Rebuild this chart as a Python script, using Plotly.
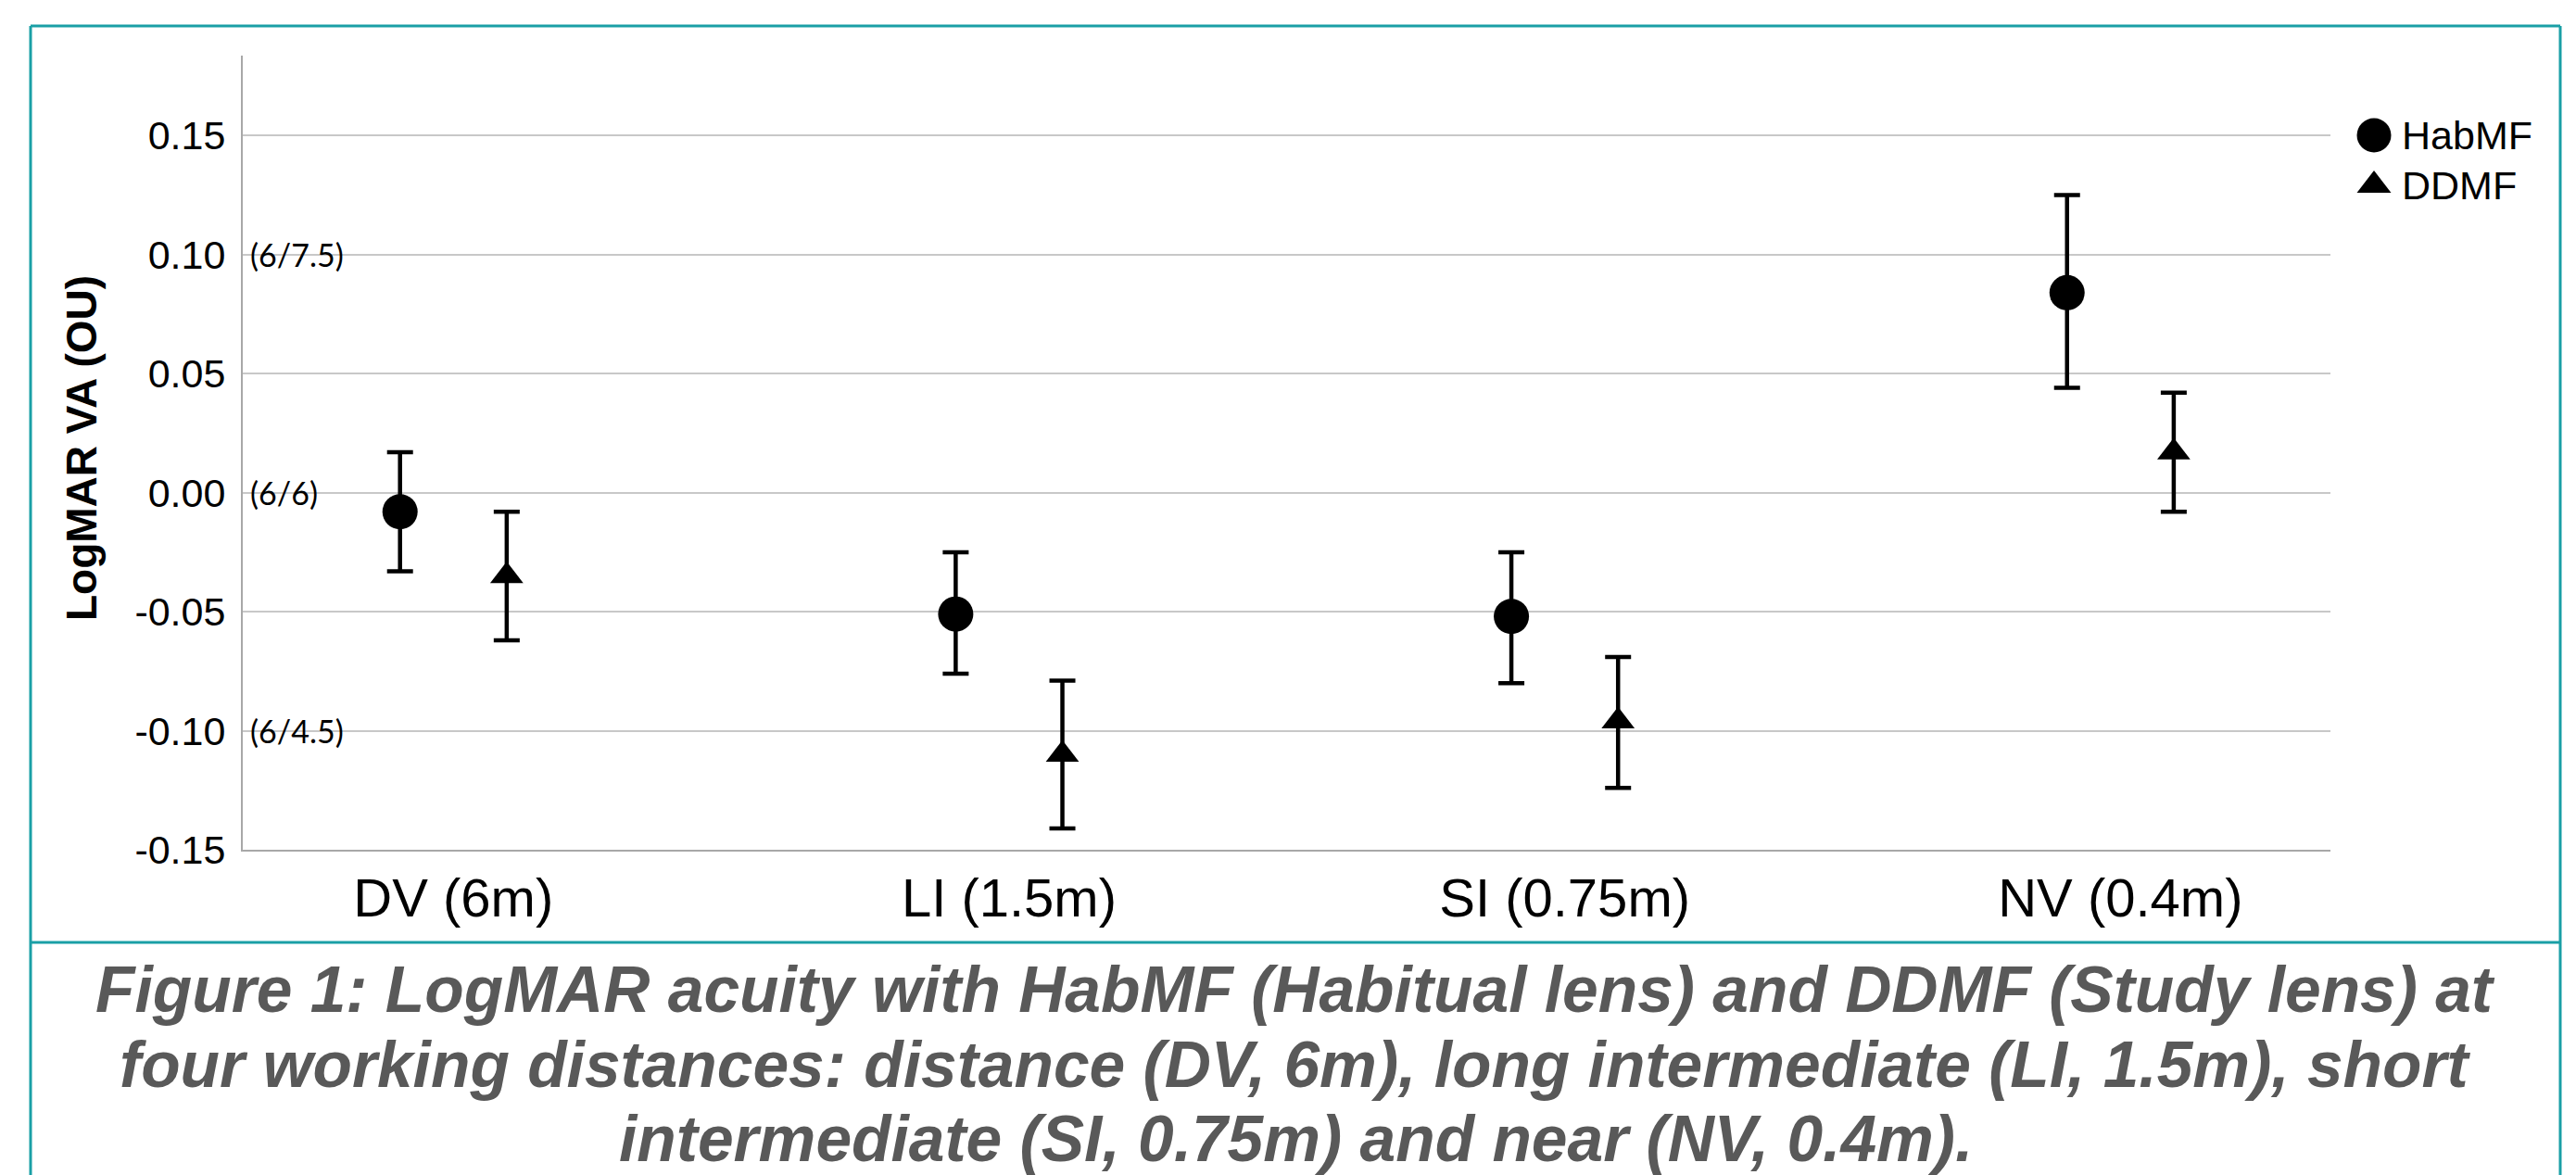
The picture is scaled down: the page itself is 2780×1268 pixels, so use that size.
import numpy as np
import plotly.graph_objects as go

# ---------------- data ----------------
categories = ["DV (6m)", "LI (1.5m)", "SI (0.75m)", "NV (0.4m)"]
series_names = ["HabMF", "DDMF"]

hab_mean = [-0.008, -0.051, -0.052, 0.084]
hab_upper = [0.017, -0.025, -0.025, 0.125]
hab_lower = [-0.033, -0.076, -0.080, 0.044]

dd_mean = [-0.035, -0.110, -0.096, 0.017]
dd_upper = [-0.008, -0.079, -0.069, 0.042]
dd_lower = [-0.062, -0.141, -0.124, -0.008]

y_tickvals = [-0.15, -0.10, -0.05, 0.00, 0.05, 0.10, 0.15]
y_ticktext = ["-0.15", "-0.10", "-0.05", "0.00", "0.05", "0.10", "0.15"]

snellen_vals = [0.10, 0.00, -0.10]
snellen_text = ["(6/7.5)", "(6/6)", "(6/4.5)"]

caption_lines = [
    "Figure 1: LogMAR acuity with HabMF (Habitual lens) and DDMF (Study lens) at",
    "four working distances: distance (DV, 6m), long intermediate (LI, 1.5m), short",
    "intermediate (SI, 0.75m) and near (NV, 0.4m).",
]

# ---------------- layout helpers ----------------
W, H = 2780, 1268


def px(x):
    return x / W


def py(y):
    return 1 - y / H


FONT = "Liberation Sans, Arial, sans-serif"
TEAL = "#1a9fa6"
offset = 0.096
idx = np.arange(len(categories))


def err(mean, upper, lower):
    m = np.array(mean)
    return dict(type="data", symmetric=False,
                array=(np.array(upper) - m).tolist(),
                arrayminus=(m - np.array(lower)).tolist(),
                color="black", thickness=4.5, width=14)


fig = go.Figure()
fig.add_trace(go.Scatter(
    x=(idx - offset).tolist(), y=hab_mean, mode="markers", name=series_names[0],
    marker=dict(symbol="circle", size=38, color="black", opacity=1, line=dict(width=0)),
    error_y=err(hab_mean, hab_upper, hab_lower), showlegend=False, cliponaxis=False))
fig.add_trace(go.Scatter(
    x=(idx + offset).tolist(), y=dd_mean, mode="markers", name=series_names[1],
    marker=dict(symbol="triangle-up", size=31, color="black", opacity=1, line=dict(width=0)),
    error_y=err(dd_mean, dd_upper, dd_lower), showlegend=False, cliponaxis=False))

# custom legend symbols on a small hidden axis
fig.add_trace(go.Scatter(
    x=[0, 0], y=[1, 0], mode="markers", xaxis="x2", yaxis="y2",
    marker=dict(symbol=["circle", "triangle-up"], size=[37, 32], color="black",
                opacity=1, line=dict(width=0)),
    showlegend=False, cliponaxis=False, hoverinfo="skip"))

annotations = []
for v, t in zip(snellen_vals, snellen_text):
    annotations.append(dict(x=px(268), xref="paper", y=v, yref="y", text=t,
                            showarrow=False, xanchor="left", yanchor="middle",
                            font=dict(family="Lato, Noto Sans, sans-serif", size=34, color="black")))

for name, yy in zip(series_names, [146, 200]):
    annotations.append(dict(x=px(2590), xref="paper", y=py(yy), yref="paper", text=name,
                            showarrow=False, xanchor="left", yanchor="middle",
                            font=dict(family=FONT, size=43, color="black")))

annotations.append(dict(x=px(88), xref="paper", y=py(484), yref="paper",
                        text="<b>LogMAR VA (OU)</b>", textangle=-90, showarrow=False,
                        xanchor="center", yanchor="middle",
                        font=dict(family=FONT, size=46, color="black")))

for line, yy in zip(caption_lines, [1068, 1149, 1229]):
    annotations.append(dict(x=px(1398), xref="paper", y=py(yy), yref="paper",
                            text="<b><i>" + line + "</i></b>", showarrow=False,
                            xanchor="center", yanchor="middle",
                            font=dict(family=FONT, size=69.5, color="#595959")))

shapes = [
    dict(type="line", xref="paper", yref="paper", x0=px(33), x1=px(2763), y0=py(28), y1=py(28),
         line=dict(color=TEAL, width=3)),
    dict(type="line", xref="paper", yref="paper", x0=px(33), x1=px(2763), y0=py(1017), y1=py(1017),
         line=dict(color=TEAL, width=3)),
    dict(type="line", xref="paper", yref="paper", x0=px(33), x1=px(33), y0=py(28), y1=py(1290),
         line=dict(color=TEAL, width=3)),
    dict(type="line", xref="paper", yref="paper", x0=px(2763), x1=px(2763), y0=py(28), y1=py(1290),
         line=dict(color=TEAL, width=3)),
]

fig.update_layout(
    template=None,
    width=W, height=H,
    margin=dict(l=0, r=0, t=0, b=0),
    paper_bgcolor="white", plot_bgcolor="white",
    font=dict(family=FONT, color="black"),
    showlegend=False,
    hovermode=False,
    xaxis=dict(domain=[px(262), px(2515)], range=[-0.379, 3.378],
               tickvals=idx.tolist(), ticktext=categories,
               tickfont=dict(family=FONT, size=58, color="black"),
               ticks="", showgrid=False, zeroline=False,
               showline=True, linecolor="#a8a8a8", linewidth=2, anchor="y"),
    yaxis=dict(domain=[py(917), py(60)], range=[-0.15, 0.1836],
               tickvals=y_tickvals, ticktext=y_ticktext,
               tickfont=dict(family=FONT, size=43, color="black"),
               ticks="outside", ticklen=8, tickcolor="rgba(0,0,0,0)",
               showgrid=True, gridcolor="#c8c8c8", gridwidth=2, zeroline=False,
               showline=True, linecolor="#a8a8a8", linewidth=2, anchor="x"),
    xaxis2=dict(domain=[px(2542), px(2582)], range=[-1, 1], visible=False, anchor="y2",
                fixedrange=True),
    yaxis2=dict(domain=[py(200), py(146)], range=[0, 1], visible=False, anchor="x2",
                fixedrange=True),
    annotations=annotations,
    shapes=shapes,
)

fig.write_html("out.html",
               config={"displayModeBar": False, "staticPlot": True},
               post_script="document.body.style.margin='0';document.body.style.overflow='hidden';")
